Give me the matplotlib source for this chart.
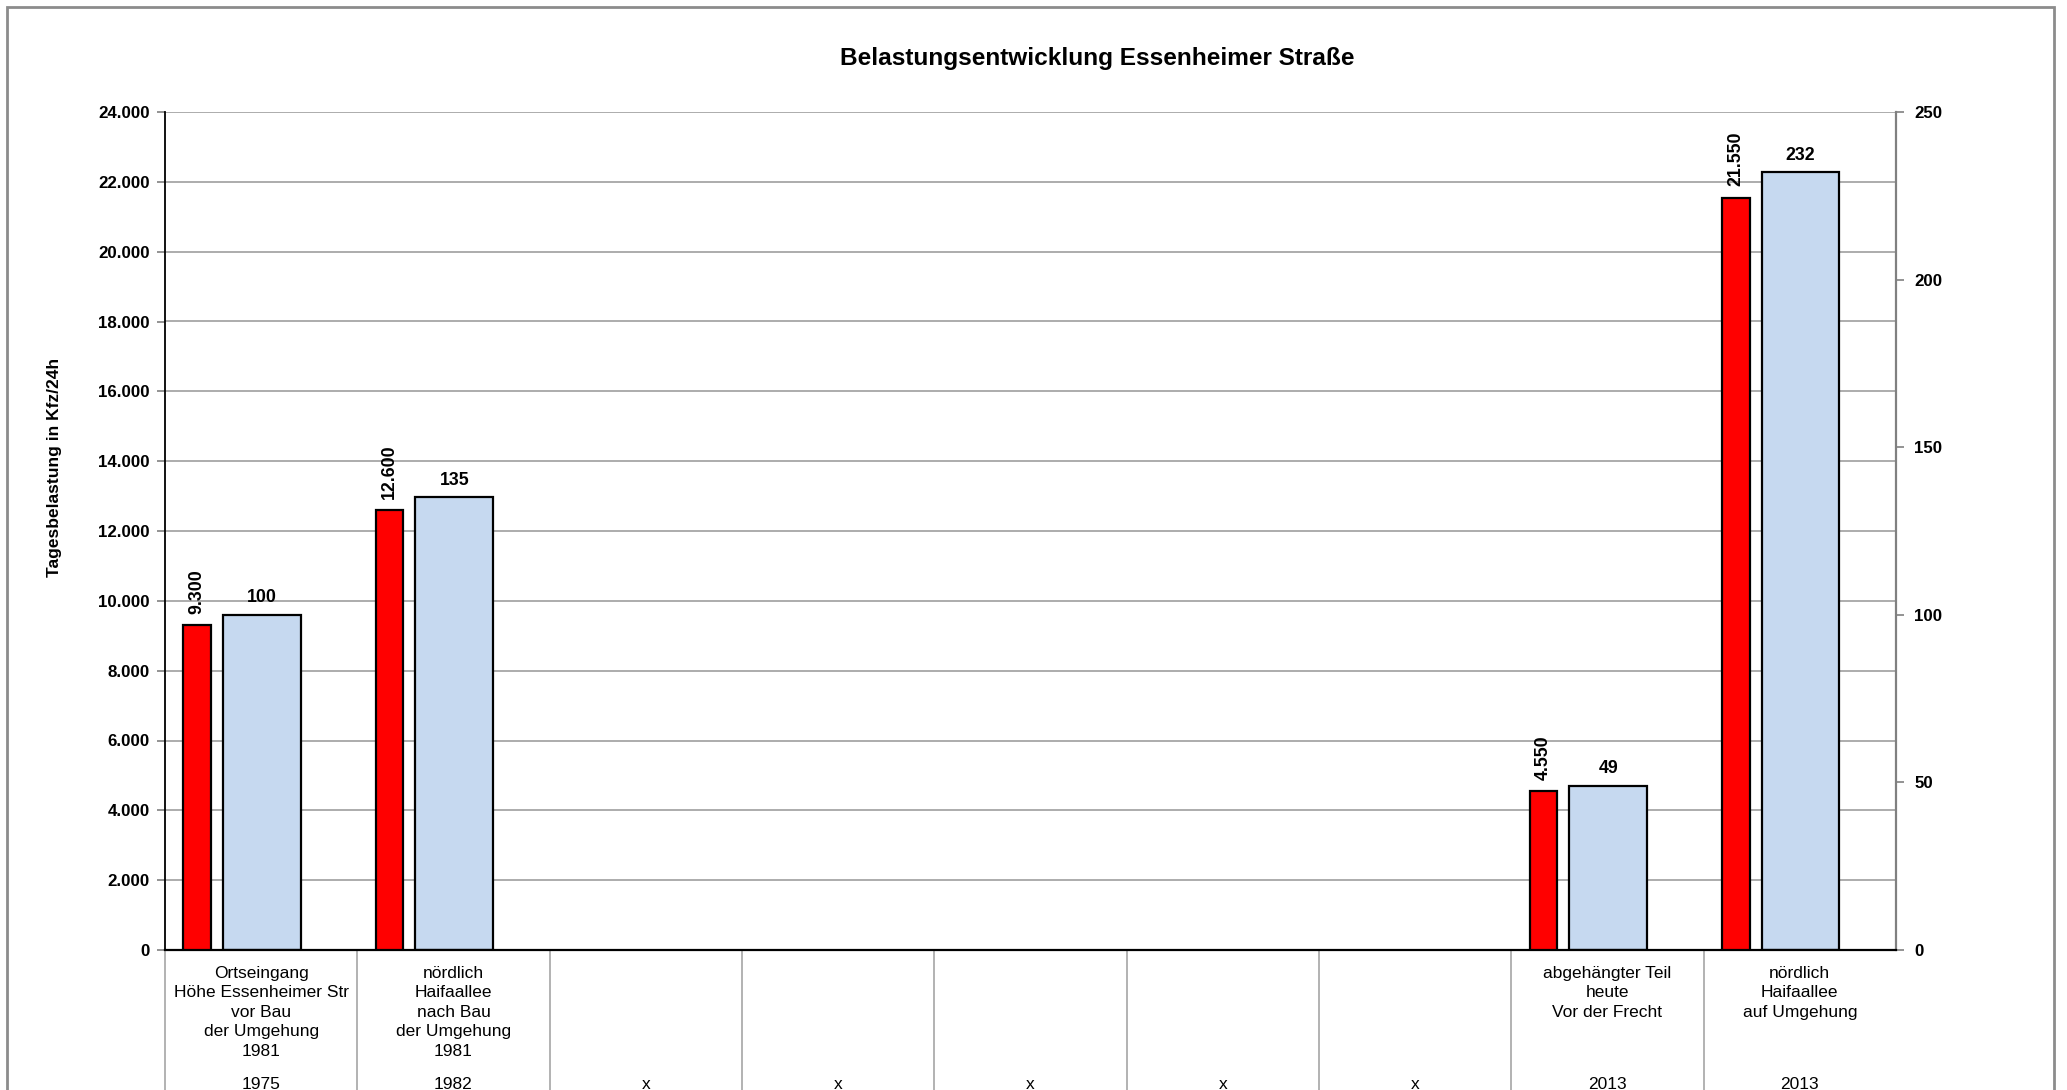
import matplotlib
matplotlib.use("Agg")
import matplotlib.pyplot as plt
import matplotlib.transforms as mtransforms
from matplotlib.patches import Rectangle
import numpy as np

plt.rcParams['font.family'] = ['Liberation Sans', 'DejaVu Sans']

title = "Belastungsentwicklung Essenheimer Straße"
ylabel = "Tagesbelastung in Kfz/24h"
categories = [
    "Ortseingang\nHöhe Essenheimer Str\nvor Bau\nder Umgehung\n1981",
    "nördlich\nHaifaallee\nnach Bau\nder Umgehung\n1981",
    "", "", "", "", "",
    "abgehängter Teil\nheute\nVor der Frecht",
    "nördlich\nHaifaallee\nauf Umgehung",
]
years = ["1975", "1982", "x", "x", "x", "x", "x", "2013", "2013"]
kfz = [9300, 12600, 0, 0, 0, 0, 0, 4550, 21550]
index = [100, 135, 0, 0, 0, 0, 0, 49, 232]
left_ticks = list(range(0, 24001, 2000))
right_ticks = list(range(0, 251, 50))

W, H = 2067, 1090
fig = plt.figure(figsize=(W / 100, H / 100), dpi=100)
L, R, T, B = 165, 1896, 112, 950
ax = fig.add_axes([L / W, 1 - B / H, (R - L) / W, (B - T) / H])
ax2 = ax.twinx()

n = len(categories)
x = np.arange(n)
red_off, red_w = -0.332, 0.144
blue_off, blue_w = 0.004, 0.404

ax.set_zorder(ax2.get_zorder() + 1)
ax.patch.set_visible(False)

ax.bar(x + red_off, kfz, red_w, color='#FF0000', edgecolor='black',
       linewidth=[1.6 if v else 0 for v in kfz], zorder=3)
ax2.bar(x + blue_off, index, blue_w, color='#C6D9F0', edgecolor='black',
        linewidth=[1.6 if v else 0 for v in index], zorder=3)

ax.set_xlim(-0.5, n - 0.5)
ax.set_ylim(0, 24000)
ax2.set_ylim(0, 250)

def fmt(v):
    return f"{v:,.0f}".replace(",", ".")

ax.set_yticks(left_ticks)
ax.set_yticklabels([fmt(v) for v in left_ticks], fontsize=12.2, fontweight='bold')
ax2.set_yticks(right_ticks)
ax2.set_yticklabels([str(v) for v in right_ticks], fontsize=12.2, fontweight='bold')
ax.set_xticks([])
ax2.set_xticks([])

ax2.yaxis.grid(False)
for yv in left_ticks[1:]:
    ax2.axhline(yv / 24000 * 250, color='#A6A6A6', linewidth=1.3, zorder=1)

ax.tick_params(axis='y', direction='out', length=6, color='#808080', width=1.2, pad=5)
ax2.tick_params(axis='y', direction='out', length=6, color='#808080', width=1.2, pad=7)

ax.spines['top'].set_visible(False)
ax2.spines['top'].set_visible(False)
ax.spines['right'].set_visible(False)
ax2.spines['left'].set_visible(False)
ax2.spines['bottom'].set_visible(False)
ax.spines['left'].set_color('black')
ax.spines['left'].set_linewidth(1.3)
ax.spines['bottom'].set_color('black')
ax.spines['bottom'].set_linewidth(1.6)
ax2.spines['right'].set_color('#808080')
ax2.spines['right'].set_linewidth(1.6)

# value labels
for xi, v in zip(x, kfz):
    if v > 0:
        ax.annotate(fmt(v), (xi + red_off, v), xytext=(0, 8), textcoords='offset points',
                    rotation=90, ha='center', va='bottom', fontsize=12.8, fontweight='bold')
for xi, v in zip(x, index):
    if v > 0:
        ax2.annotate(str(v), (xi + blue_off, v), xytext=(0, 6), textcoords='offset points',
                     ha='center', va='bottom', fontsize=12.8, fontweight='bold')

# category table
trans = mtransforms.blended_transform_factory(ax.transData, ax.transAxes)
for i in range(n):
    ax.plot([i - 0.5, i - 0.5], [0, -0.25], transform=trans, color='#A6A6A6',
            linewidth=1.2, clip_on=False, zorder=0)
for i in range(n):
    ax.annotate(categories[i], (i, 0), xycoords=trans, xytext=(0, -11.5), textcoords='offset points',
                ha='center', va='top', fontsize=12.5, linespacing=1.37)
    ax.annotate(years[i], (i, 0), xycoords=trans, xytext=(0, -97), textcoords='offset points',
                ha='center', va='center', fontsize=12.5)

fig.text(0.531, 1 - 59 / H, title, ha='center', va='center', fontsize=17.6, fontweight='bold')
fig.text(55 / W, 1 - 467 / H, ylabel, rotation=90, ha='center', va='center', fontsize=12.5,
         fontweight='bold')

fig.patches.append(Rectangle((7 / W, -0.05), (2054 - 7) / W, 1.05 - 7 / H,
                             transform=fig.transFigure, fill=False, edgecolor='#8C8C8C',
                             linewidth=2, figure=fig))

fig.savefig("out.png", dpi=100)
